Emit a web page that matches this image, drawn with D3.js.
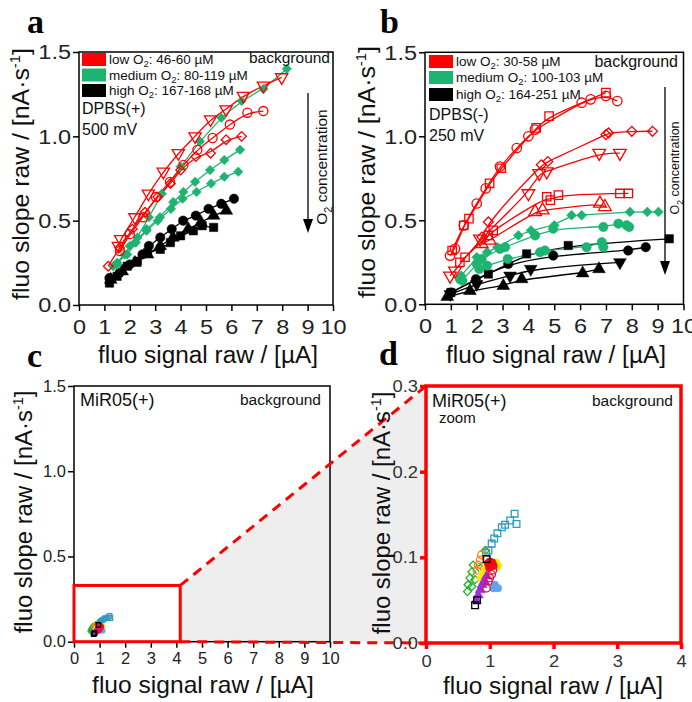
<!DOCTYPE html>
<html><head><meta charset="utf-8">
<script src="https://cdn.jsdelivr.net/npm/d3@7"></script>
<style>body{margin:0;background:#fff} svg text{font-family:"Liberation Sans",Arial,sans-serif}</style>
</head><body><svg id="chart" width="692" height="702"></svg>
<script>
// ---------- tick labels ----------
const xTicks10 = [0,1,2,3,4,5,6,7,8,9,10];
const yTicks15 = [0,0.5,1.0,1.5];
const xTicksZoom = [0,1,2,3,4];
const yTicksZoom = [0,0.1,0.2,0.3];

// ---------- panel a : DPBS(+) 500 mV ----------
const aRedTriDown = [[1.55,0.35],[1.64,0.39],[2.2,0.52],[2.73,0.66],[3.32,0.79],[3.91,0.90],[4.57,1.00],[5.18,1.10],[5.79,1.16],[6.47,1.24],[7.26,1.30],[7.98,1.35]];
const aRedCircle = [[1.61,0.32],[2.0,0.42],[2.53,0.52],[3.03,0.64],[3.58,0.73],[4.11,0.83],[4.66,0.92],[5.26,0.99],[5.94,1.07],[6.63,1.14],[7.26,1.15]];
const aRedDiamond = [[1.15,0.23],[1.6,0.34],[2.1,0.45],[2.6,0.55],[3.1,0.64],[3.6,0.72],[4.0,0.80],[4.6,0.88],[5.18,0.90],[5.79,0.98],[6.40,1.0]];
const aGrnTop = [[1.35,0.23],[1.8,0.30],[2.3,0.40],[2.75,0.52],[3.26,0.66],[4.0,0.82],[4.76,0.97],[5.6,1.11],[6.4,1.21],[7.26,1.28],[8.18,1.40]];
const aGrnMid = [[1.5,0.24],[2.0,0.35],[2.2,0.37],[2.66,0.45],[3.19,0.52],[3.71,0.61],[4.11,0.67],[4.57,0.73],[5.16,0.80],[5.72,0.86],[6.34,0.92]];
const aGrnLow = [[1.5,0.25],[1.9,0.30],[2.24,0.37],[2.66,0.44],[3.1,0.50],[3.62,0.57],[4.08,0.63],[4.63,0.67],[5.2,0.72],[5.72,0.76],[6.27,0.79]];
const aBlkCircle = [[1.2,0.16],[1.6,0.19],[2.0,0.24],[2.5,0.30],[2.75,0.35],[3.2,0.40],[3.65,0.45],[4.1,0.50],[4.6,0.53],[5.1,0.57],[5.6,0.60],[6.1,0.63]];
const aBlkTriUp = [[1.25,0.15],[1.7,0.20],[2.2,0.25],[2.7,0.30],[3.2,0.35],[3.7,0.40],[4.3,0.45],[4.8,0.49],[5.3,0.53],[5.8,0.56]];
const aBlkSquare = [[1.2,0.13],[1.5,0.17],[1.9,0.23],[2.3,0.26],[2.7,0.31],[3.2,0.33],[3.6,0.37],[4.0,0.41],[4.5,0.44],[4.85,0.47],[5.3,0.46]];
const aLegend = ["low O|2|: 46-60 µM","medium O|2|: 80-119 µM","high O|2|: 167-168 µM"];

// ---------- panel b : DPBS(-) 250 mV ----------
const bRedCircle = [[0.97,0.29],[1.16,0.33],[1.5,0.47],[2.0,0.60],[2.35,0.69],[2.9,0.82],[3.55,0.93],[4.0,1.0],[4.25,1.04],[6.06,1.20],[6.41,1.22],[7.0,1.24],[7.44,1.21]];
const bRedSquare = [[1.05,0.32],[1.5,0.47],[1.7,0.51],[2.5,0.72],[2.95,0.81],[4.3,1.05],[4.8,1.12],[7.0,1.26]];
const bRedDiamond = [[2.2,0.40],[2.45,0.49],[4.5,0.83],[4.75,0.85],[7.0,1.01],[7.1,1.02],[8.0,1.03],[8.8,1.03]];
const bRedTriDown = [[0.97,0.17],[1.16,0.20],[2.13,0.39],[4.0,0.66],[4.42,0.78],[4.71,0.79],[6.74,0.90],[7.54,0.90]];
const bRedSquareLow = [[1.35,0.25],[1.55,0.28],[2.45,0.41],[2.64,0.44],[4.71,0.64],[4.85,0.62],[5.16,0.65],[7.54,0.66],[7.87,0.66]];
const bRedTriUp = [[2.19,0.36],[2.5,0.38],[4.26,0.55],[4.55,0.56],[6.77,0.60],[6.96,0.58]];
const bGrnDiamond = [[1.4,0.17],[2.0,0.28],[2.4,0.31],[2.8,0.34],[3.61,0.41],[4.1,0.44],[5.0,0.47],[5.67,0.53],[6.06,0.53],[7.93,0.55],[8.6,0.55],[9.03,0.55]];
const bGrnCircle = [[1.35,0.15],[1.45,0.14],[2.0,0.24],[2.19,0.27],[2.9,0.33],[3.1,0.34],[4.26,0.41],[4.96,0.45],[6.90,0.46],[7.48,0.48],[7.8,0.47],[7.9,0.46]];
const bGrnCircleLow = [[2.1,0.21],[2.4,0.23],[3.2,0.27],[4.45,0.31],[4.64,0.32],[6.25,0.34],[6.84,0.37],[6.9,0.34]];
const bBlkSquare = [[1.0,0.07],[2.45,0.18],[3.93,0.30],[5.54,0.35],[9.45,0.39]];
const bBlkCircle = [[1.0,0.07],[1.97,0.15],[3.22,0.24],[4.96,0.29],[7.86,0.32],[8.54,0.34]];
const bBlkTriDown = [[0.98,0.06],[2.0,0.12],[3.29,0.17],[4.09,0.21],[7.54,0.25]];
const bBlkTriUp = [[0.86,0.045],[1.74,0.08],[3.03,0.11],[3.74,0.15],[6.1,0.185],[6.73,0.21]];
const bLegend = ["low O|2|: 30-58 µM","medium O|2|: 100-103 µM","high O|2|: 164-251 µM"];

// ---------- panels c / d : MiR05(+) ----------
const mTeal = [[0.94,0.105],[0.98,0.108],[1.03,0.116],[1.07,0.122],[1.12,0.128],[1.19,0.135],[1.24,0.138],[1.32,0.143],[1.39,0.151],[1.42,0.139]];
const mGreen = [[0.65,0.060],[0.66,0.068],[0.69,0.076],[0.72,0.083],[0.74,0.091],[0.77,0.074],[0.72,0.066],[0.85,0.087],[0.93,0.108]];
const mOrange = [[0.80,0.085],[0.82,0.091],[0.85,0.097],[0.87,0.103]];
const mYellow = [[0.86,0.075],[0.89,0.081],[0.93,0.086],[1.10,0.094],[1.13,0.090]];
const mRed = [[0.97,0.093],[1.0,0.095],[1.04,0.094],[1.06,0.090],[0.99,0.088]];
const mCrimson = [[0.95,0.064],[0.98,0.072],[1.0,0.076],[1.03,0.080],[1.05,0.085]];
const mPurple = [[0.79,0.050],[0.82,0.056],[0.85,0.062],[0.88,0.068],[0.92,0.072],[0.95,0.078]];
const mLightBlue = [[1.06,0.064],[1.08,0.068],[1.13,0.064]];
const mBlack = [[0.77,0.044],[0.80,0.050],[0.95,0.098]];

// ---------- drawing ----------
const RED = "#ff0000", GRN = "#1db370", BLK = "#000000";
const svg = d3.select("#chart");

function marker(g, pts, x, y, shape, color, filled, size) {
  const types = {circle: d3.symbolCircle, square: d3.symbolSquare, diamond: d3.symbolSquare,
                 triup: d3.symbolTriangle, tridown: d3.symbolTriangle};
  const rot = shape === "diamond" ? 45 : shape === "tridown" ? 180 : 0;
  const sz = shape === "diamond" ? size * 0.7 : size;
  g.selectAll(null).data(pts).enter().append("path")
    .attr("d", d3.symbol().type(types[shape]).size(sz))
    .attr("transform", d => `translate(${x(d[0])},${y(d[1])}) rotate(${rot})`)
    .attr("fill", filled ? color : "none")
    .attr("stroke", color).attr("stroke-width", filled ? 0.5 : 1.3);
}
function fitLine(g, pts, x, y, color) {
  const s = pts.slice().sort((p, q) => p[0] - q[0]);
  g.append("path").attr("d", d3.line().x(d => x(d[0])).y(d => y(d[1])).curve(d3.curveBasis)(s))
    .attr("fill", "none").attr("stroke", color).attr("stroke-width", 1.3);
}
function axes(g, x, y, o) {
  const ax = g.append("g").attr("transform", `translate(0,${y.range()[0]})`)
    .call(d3.axisBottom(x).tickValues(o.xt).tickSize(6).tickPadding(o.xpad).tickFormat(d3.format("d")));
  const ay = g.append("g").attr("transform", `translate(${x.range()[0]},0)`)
    .call(d3.axisLeft(y).tickValues(o.yt).tickSize(6).tickPadding(2).tickFormat(d3.format(".1f")));
  [ax, ay].forEach(a => {
    a.select(".domain").remove();
    a.selectAll(".tick line").attr("stroke", o.stroke).attr("stroke-width", o.sw);
    a.selectAll(".tick text").attr("fill", "#222").style("font-size", o.fs + "px");
  });
  ax.selectAll(".tick text").attr("transform", `scale(${o.sx},1)`);
  ay.selectAll(".tick text").attr("transform", `translate(-8,0) scale(${o.sx},1) translate(8,0)`);
  g.append("rect").attr("x", x.range()[0]).attr("y", y.range()[1])
    .attr("width", x.range()[1] - x.range()[0]).attr("height", y.range()[0] - y.range()[1])
    .attr("fill", "none").attr("stroke", o.stroke).attr("stroke-width", o.sw);
}
function labels(g, o) {
  g.append("text").attr("transform", `translate(${o.xlx},${o.xly}) scale(${o.xsx},1)`).attr("text-anchor", "middle")
    .style("font-size", o.lfs + "px").attr("fill", "#111").text("fluo signal raw / [µA]");
  const t = g.append("text").attr("transform", `translate(${o.ylx},${o.yly}) rotate(-90) scale(${o.ysx},1)`)
    .attr("text-anchor", "middle").style("font-size", o.lfs + "px").attr("fill", "#111");
  t.append("tspan").text("fluo slope raw / [nA·s");
  t.append("tspan").attr("dy", -9).style("font-size", (o.lfs * 0.6) + "px").text("-1");
  t.append("tspan").attr("dy", 9).text("]");
}
function richText(g, str, xx, yy, fs, anchor) {
  const parts = str.split("|");
  const t = g.append("text").attr("x", xx).attr("y", yy).style("font-size", fs + "px")
    .attr("fill", "#111").attr("text-anchor", anchor || "start");
  parts.forEach((p, i) => {
    if (i % 2 === 1) t.append("tspan").attr("dy", fs * 0.25).style("font-size", (fs * 0.7) + "px").text(p);
    else t.append("tspan").attr("dy", i ? -fs * 0.25 : 0).text(p);
  });
  return t;
}
function legend(g, items, lx, rows, h, fs) {
  const cols = [RED, GRN, BLK];
  items.forEach((s, i) => {
    g.append("rect").attr("x", lx).attr("y", rows[i]).attr("width", 24).attr("height", h).attr("fill", cols[i]);
    richText(g, s, lx + 27, rows[i] + h - 2, fs);
  });
}
function arrow(g, ax, y0, y1, tx, ty, fs) {
  g.append("line").attr("x1", ax).attr("x2", ax).attr("y1", y0).attr("y2", y1 - 12)
    .attr("stroke", "#000").attr("stroke-width", 1.3);
  g.append("path").attr("d", `M${ax - 5},${y1 - 14}L${ax + 5},${y1 - 14}L${ax},${y1}Z`).attr("fill", "#000");
  const t = g.append("text").attr("transform", `translate(${tx},${ty}) rotate(-90)`)
    .attr("text-anchor", "middle").style("font-size", fs + "px").attr("fill", "#111");
  t.append("tspan").text("O");
  t.append("tspan").attr("dy", fs * 0.3).style("font-size", (fs * 0.7) + "px").text("2");
  t.append("tspan").attr("dy", -fs * 0.3).text(" concentration");
}
function letter(ch, x, y) {
  svg.append("text").attr("x", x).attr("y", y).style("font-family", "'Liberation Serif',serif")
    .style("font-weight", "bold").style("font-size", "34px").text(ch);
}

// ===== panel a =====
{
  const g = svg.append("g");
  const x = d3.scaleLinear().domain([0, 10]).range([79, 333]);
  const y = d3.scaleLinear().domain([0, 1.5]).range([305, 52]);
  const ser = [
    [aBlkSquare, "square", BLK, true], [aBlkTriUp, "triup", BLK, true], [aBlkCircle, "circle", BLK, true],
    [aGrnLow, "diamond", GRN, true], [aGrnMid, "diamond", GRN, true], [aGrnTop, "diamond", GRN, true],
    [aRedDiamond, "diamond", RED, false], [aRedCircle, "circle", RED, false], [aRedTriDown, "tridown", RED, false]];
  ser.forEach(s => fitLine(g, s[0], x, y, s[2]));
  ser.forEach(s => marker(g, s[0], x, y, s[1], s[2], s[3], s[3] && s[1] !== "diamond" ? 70 : 65));
  axes(g, x, y, {xt: xTicks10, yt: yTicks15, xpad: 8, fs: 21, sx: 1.12, stroke: "#000", sw: 1.5});
  labels(g, {xlx: 208, xly: 363, ylx: 29, yly: 174, lfs: 23, xsx: 1.06, ysx: 1.08});
  legend(g, aLegend, 82, [53, 68.5, 84], 13, 13.5);
  richText(g, "DPBS(+)", 82, 114, 16);
  richText(g, "500 mV", 82, 135, 16);
  richText(g, "background", 330, 63, 15.5, "end");
  arrow(g, 308, 93, 233, 327, 167, 15.5);
  letter("a", 27, 33);
}
// ===== panel b =====
{
  const g = svg.append("g");
  const x = d3.scaleLinear().domain([0, 10]).range([425, 683.5]);
  const y = d3.scaleLinear().domain([0, 1.5]).range([304.3, 52.3]);
  const ser = [
    [bBlkTriUp, "triup", BLK, true], [bBlkTriDown, "tridown", BLK, true], [bBlkCircle, "circle", BLK, true], [bBlkSquare, "square", BLK, true],
    [bGrnCircleLow, "circle", GRN, true], [bGrnCircle, "circle", GRN, true], [bGrnDiamond, "diamond", GRN, true],
    [bRedTriUp, "triup", RED, false], [bRedSquareLow, "square", RED, false], [bRedTriDown, "tridown", RED, false],
    [bRedDiamond, "diamond", RED, false], [bRedSquare, "square", RED, false], [bRedCircle, "circle", RED, false]];
  ser.forEach(s => fitLine(g, s[0], x, y, s[2]));
  ser.forEach(s => marker(g, s[0], x, y, s[1], s[2], s[3], 70));
  axes(g, x, y, {xt: xTicks10, yt: yTicks15, xpad: 8, fs: 21, sx: 1.12, stroke: "#000", sw: 1.5});
  labels(g, {xlx: 556, xly: 363, ylx: 375, yly: 172, lfs: 23, xsx: 1.06, ysx: 1.08});
  legend(g, bLegend, 429, [55, 71, 88], 13, 13.5);
  richText(g, "DPBS(-)", 429, 120, 16);
  richText(g, "250 mV", 429, 141, 16);
  richText(g, "background", 678, 67, 16, "end");
  arrow(g, 665, 87, 275, 679, 168, 12.5);
  letter("b", 380, 33);
}
// ===== panels c & d =====
{
  const xc = d3.scaleLinear().domain([0, 10]).range([74, 330]);
  const yc = d3.scaleLinear().domain([0, 1.5]).range([641.7, 386]);
  const xd = d3.scaleLinear().domain([0, 4]).range([426, 681]);
  const yd = d3.scaleLinear().domain([0, 0.3]).range([643, 386]);
  const boxX = 4.15, boxY = 0.33;
  const g = svg.append("g");
  // connector shading
  g.append("path").attr("d", d3.line()([[xc(boxX), yc(boxY)], [xd(0), yd(0.3)], [xd(0), yd(0)], [xc(boxX), yc(0)]]) + "Z")
    .attr("fill", "#eeeeee");
  const mser = [
    [mTeal, "square", "#2e9cbd", false], [mGreen, "diamond", "#22b32a", false], [mOrange, "circle", "#ff7f1e", false],
    [mYellow, "circle", "#ffe800", true], [mRed, "circle", "#ff0000", true], [mLightBlue, "circle", "#5ea6ee", true],
    [mPurple, "triup", "#9a2ee0", true], [mCrimson, "circle", "#e8104a", false], [mBlack, "square", "#000000", false]];
  // panel c
  axes(g, xc, yc, {xt: xTicks10, yt: yTicks15, xpad: 5, fs: 16.5, sx: 1.0, stroke: "#000", sw: 1.5});
  mser.forEach(s => marker(g, s[0], xc, yc, s[1], s[2], s[3], 20));
  labels(g, {xlx: 203, xly: 693, ylx: 32, yly: 512, lfs: 23, xsx: 1.07, ysx: 1.04});
  richText(g, "MiR05(+)", 80, 406, 18);
  richText(g, "background", 321, 405, 15.5, "end");
  g.append("rect").attr("x", xc(0)).attr("y", yc(boxY)).attr("width", xc(boxX) - xc(0)).attr("height", yc(0) - yc(boxY))
    .attr("fill", "none").attr("stroke", RED).attr("stroke-width", 3);
  [[[xc(boxX), yc(boxY)], [xd(0), yd(0.3)]], [[xc(boxX), yc(0)], [xd(0), yd(0)]]].forEach(l =>
    g.append("path").attr("d", d3.line()(l)).attr("stroke", RED).attr("stroke-width", 3)
      .attr("stroke-dasharray", "10,7").attr("fill", "none"));
  letter("c", 27, 367);
  // panel d
  const gd = svg.append("g");
  gd.append("rect").attr("x", xd(0)).attr("y", yd(0.3)).attr("width", xd(4) - xd(0)).attr("height", yd(0) - yd(0.3)).attr("fill", "#fff");
  mser.forEach(s => marker(gd, s[0], xd, yd, s[1], s[2], s[3], 45));
  axes(gd, xd, yd, {xt: xTicksZoom, yt: yTicksZoom, xpad: 6, fs: 17, sx: 1.08, stroke: RED, sw: 3.5});
  gd.selectAll(".tick text").attr("fill", "#333");
  labels(gd, {xlx: 553, xly: 694, ylx: 390, yly: 513, lfs: 23, xsx: 1.06, ysx: 1.04});
  richText(gd, "MiR05(+)", 432, 407, 18);
  richText(gd, "zoom", 439, 423, 15);
  richText(gd, "background", 673, 406, 15.5, "end");
  letter("d", 379, 365);
}
</script></body></html>
